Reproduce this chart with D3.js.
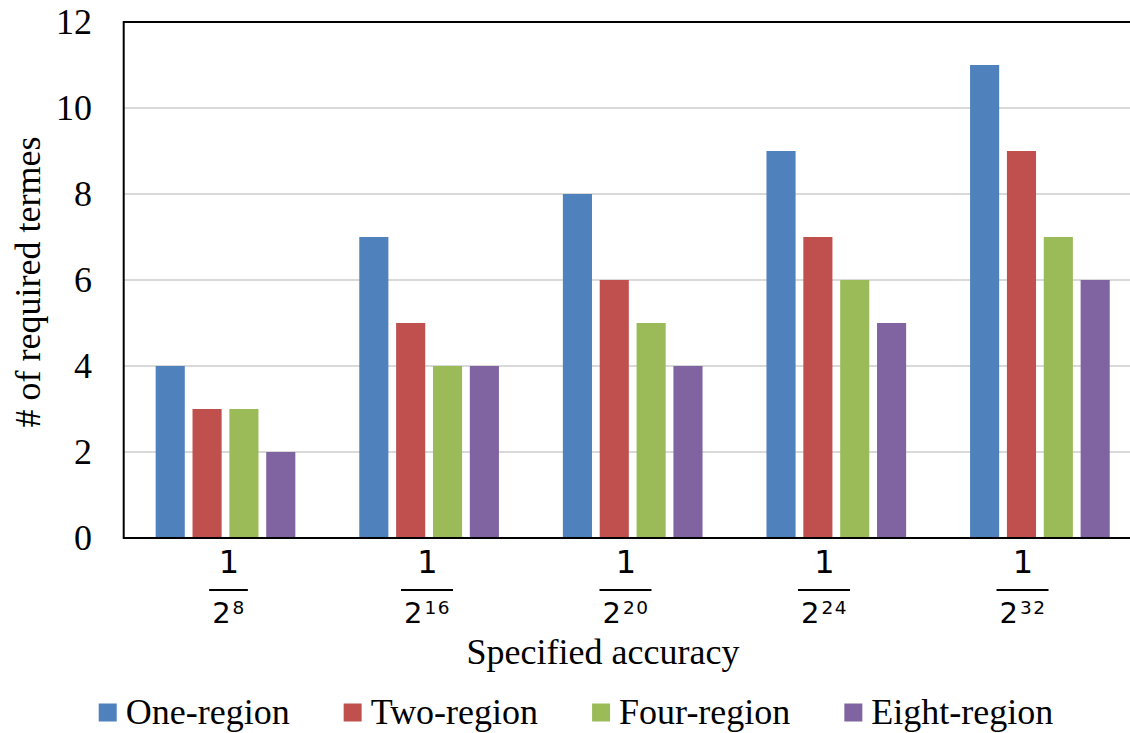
<!DOCTYPE html>
<html>
<head>
<meta charset="utf-8">
<script src="https://cdn.jsdelivr.net/npm/d3@7"></script>
<style>
  html, body { margin: 0; padding: 0; background: #fff; }
  svg { display: block; }
</style>
</head>
<body>
<svg id="chart" width="1130" height="733"></svg>
<script>
// Accuracy targets, written as 1 / 2^k
const exponents = ["8", "16", "20", "24", "32"];
const seriesNames = ["One-region", "Two-region", "Four-region", "Eight-region"];
const seriesColors = ["#4F81BD", "#C0504D", "#9BBB59", "#8064A2"];

// Number of required terms per series, one value per accuracy target
const oneRegion   = [4, 7, 8, 9, 11];
const twoRegion   = [3, 5, 6, 7, 9];
const fourRegion  = [3, 4, 5, 6, 7];
const eightRegion = [2, 4, 4, 5, 6];

const yTicks = [0, 2, 4, 6, 8, 10, 12];

const seriesValues = [oneRegion, twoRegion, fourRegion, eightRegion];
const rows = exponents.map((e, i) => ({
  key: e,
  values: seriesNames.map((s, j) => ({ series: s, value: seriesValues[j][i], color: seriesColors[j] }))
}));

const svg = d3.select("#chart");
const serif = "'Liberation Serif', 'Times New Roman', serif";
const mathFont = "'DejaVu Sans', sans-serif";

const plotLeft = 123.7, plotRight = 1141.7, plotTop = 22, plotBottom = 538;

const x0 = d3.scaleBand().domain(exponents).range([plotLeft, plotRight])
  .paddingInner(0.314).paddingOuter(0.157);
const x1 = d3.scaleBand().domain(seriesNames).range([0, x0.bandwidth()])
  .paddingInner(0.21).paddingOuter(0);
const y = d3.scaleLinear().domain([0, 12]).range([plotBottom, plotTop]);
// Category labels sit on a slightly narrower spread than the groups
const xLabel = d3.scalePoint().domain(exponents).range([229, 1023]);

// Horizontal gridlines
svg.append("g")
  .selectAll("line")
  .data(yTicks.filter(t => t > 0 && t < 12))
  .join("line")
  .attr("x1", plotLeft).attr("x2", 1130)
  .attr("y1", d => y(d)).attr("y2", d => y(d))
  .attr("stroke", "#D9D9D9").attr("stroke-width", 2);

// Bars
svg.append("g")
  .selectAll("g")
  .data(rows)
  .join("g")
  .attr("transform", d => `translate(${x0(d.key)},0)`)
  .selectAll("rect")
  .data(d => d.values)
  .join("rect")
  .attr("x", d => x1(d.series))
  .attr("width", x1.bandwidth())
  .attr("y", d => y(d.value))
  .attr("height", d => y(0) - y(d.value))
  .attr("fill", d => d.color);

// Frame lines: top, bottom axis, left axis
svg.append("line").attr("x1", plotLeft).attr("x2", 1130).attr("y1", y(12)).attr("y2", y(12))
  .attr("stroke", "#000").attr("stroke-width", 2);
svg.append("line").attr("x1", plotLeft).attr("x2", 1130).attr("y1", y(0)).attr("y2", y(0))
  .attr("stroke", "#000").attr("stroke-width", 2);
svg.append("line").attr("x1", plotLeft).attr("x2", plotLeft).attr("y1", y(12) - 1).attr("y2", y(0) + 1)
  .attr("stroke", "#000").attr("stroke-width", 2);

// Y tick labels
svg.append("g")
  .selectAll("text")
  .data(yTicks)
  .join("text")
  .attr("x", 92)
  .attr("y", d => y(d) + 12)
  .attr("text-anchor", "end")
  .attr("font-family", serif)
  .attr("font-size", 36)
  .attr("fill", "#000")
  .text(d => d);

// X tick labels as fractions 1 / 2^k
const frac = svg.append("g")
  .selectAll("g")
  .data(exponents)
  .join("g")
  .attr("transform", d => `translate(${xLabel(d)},0)`);

frac.append("text")
  .attr("x", 0).attr("y", 573)
  .attr("text-anchor", "middle")
  .attr("font-family", mathFont)
  .attr("font-size", 32)
  .attr("fill", "#000")
  .text("1");

const den = frac.append("text")
  .attr("class", "den")
  .attr("x", 0).attr("y", 623)
  .attr("text-anchor", "middle")
  .attr("font-family", mathFont)
  .attr("font-size", 29)
  .attr("fill", "#000");
den.append("tspan").text("2");
den.append("tspan")
  .attr("dy", -9)
  .attr("dx", 2)
  .attr("font-size", 18.5)
  .attr("letter-spacing", 1.5)
  .text(d => d);

frac.each(function () {
  const g = d3.select(this);
  const bb = g.select(".den").node().getBBox();
  g.insert("line", ".den")
    .attr("x1", bb.x - 3).attr("x2", bb.x + bb.width + 2)
    .attr("y1", 590).attr("y2", 590)
    .attr("stroke", "#000").attr("stroke-width", 2);
});

// Axis titles
svg.append("text")
  .attr("x", 603).attr("y", 664)
  .attr("text-anchor", "middle")
  .attr("font-family", serif)
  .attr("font-size", 36)
  .attr("fill", "#000")
  .text("Specified accuracy");

svg.append("text")
  .attr("transform", "translate(40,282) rotate(-90)")
  .attr("text-anchor", "middle")
  .attr("font-family", serif)
  .attr("font-size", 36)
  .attr("fill", "#000")
  .text("# of required termes");

// Legend
const legend = svg.append("g");
const items = legend.selectAll("g")
  .data(seriesNames)
  .join("g");
items.append("rect")
  .attr("x", 0).attr("y", 703.5)
  .attr("width", 18).attr("height", 18)
  .attr("fill", (d, i) => seriesColors[i]);
items.append("text")
  .attr("x", 27).attr("y", 723.5)
  .attr("font-family", serif)
  .attr("font-size", 36)
  .attr("fill", "#000")
  .text(d => d);

let cursor = 0;
const gap = 54;
items.each(function () {
  const g = d3.select(this);
  const w = 27 + g.select("text").node().getComputedTextLength();
  g.attr("transform", `translate(${cursor},0)`);
  cursor += w + gap;
});
const totalWidth = cursor - gap;
legend.attr("transform", `translate(${576 - totalWidth / 2},0)`);
</script>
</body>
</html>
